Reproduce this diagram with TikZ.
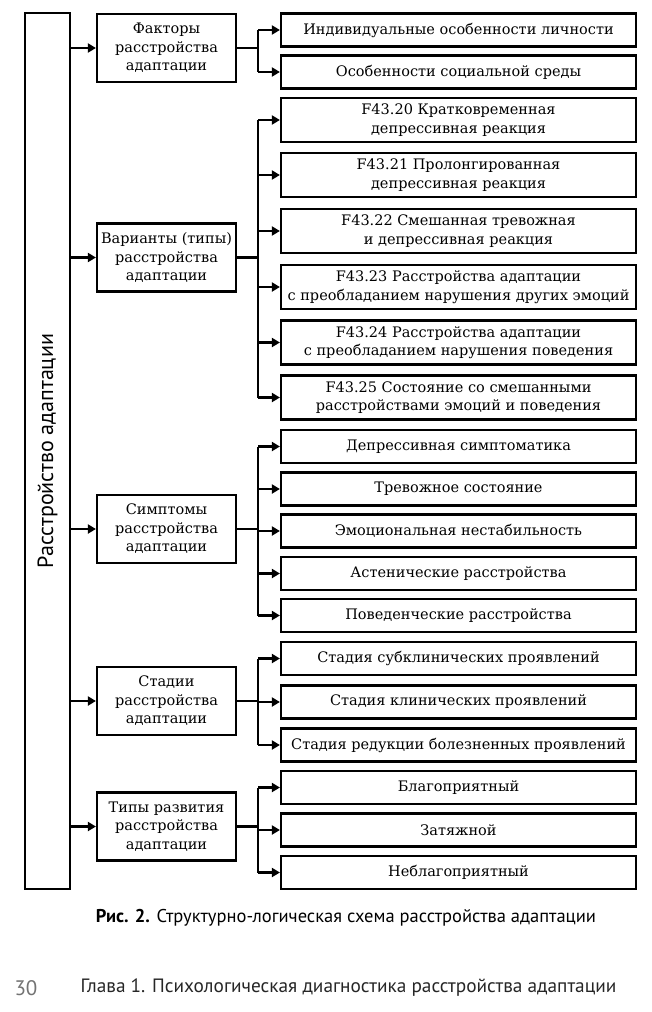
\documentclass[tikz,border=0pt]{standalone}
\usepackage{fontspec}
\setmainfont{DejaVu Serif}
\newfontfamily\capfont{PT Sans}
\usetikzlibrary{arrows.meta}
\begin{document}
\begin{tikzpicture}[x=1pt,y=-1pt,
  box/.style={draw, line width=2.2pt, inner sep=0pt, align=center,
    font=\fontsize{14.5}{18.5}\selectfont},
  lbox/.style={box, minimum width=139pt, minimum height=68pt},
  rbox/.style={box, minimum width=355pt, minimum height=33pt},
  rbox2/.style={box, minimum width=355pt, minimum height=44pt},
  ln/.style={line width=2.2pt},
  arr/.style={line width=2.2pt, -{Triangle[length=8pt,width=9pt]}}]
\fill[white] (0,0) rectangle (652,1012);
\useasboundingbox (0,0) rectangle (652,1012);
% main
\node[box, minimum width=45pt, minimum height=876pt] (main) at (47.5,451) {};
\node[rotate=90, font=\capfont\fontsize{22}{26}\selectfont] (mainlbl) at (main.center) {Расстройство адаптации};
% level 2
\node[lbox] (f) at (166.5,48) {Факторы\\расстройства\\адаптации};
\node[lbox] (v) at (166.5,257.5) {Варианты (типы)\\расстройства\\адаптации};
\node[lbox] (s) at (166.5,529) {Симптомы\\расстройства\\адаптации};
\node[lbox] (st) at (166.5,701) {Стадии\\расстройства\\адаптации};
\node[lbox] (t) at (166.5,826.5) {Типы развития\\расстройства\\адаптации};
\foreach \n in {f,v,s,st,t} \draw[arr] (main.east |- \n) -- (\n.west);
% level 3
\node[rbox] (a1) at (458.5,30) {Индивидуальные особенности личности};
\node[rbox] (a2) at (458.5,72) {Особенности социальной среды};
\node[rbox2] (b1) at (458.5,120) {F43.20 Кратковременная\\депрессивная реакция};
\node[rbox2] (b2) at (458.5,175) {F43.21 Пролонгированная\\депрессивная реакция};
\node[rbox2] (b3) at (458.5,231) {F43.22 Смешанная тревожная\\и депрессивная реакция};
\node[rbox2] (b4) at (458.5,287) {F43.23 Расстройства адаптации\\с преобладанием нарушения других эмоций};
\node[rbox2] (b5) at (458.5,342.5) {F43.24 Расстройства адаптации\\с преобладанием нарушения поведения};
\node[rbox2] (b6) at (458.5,397.5) {F43.25 Состояние со смешанными\\расстройствами эмоций и поведения};
\node[rbox] (c1) at (458.5,446.5) {Депрессивная симптоматика};
\node[rbox] (c2) at (458.5,489) {Тревожное состояние};
\node[rbox] (c3) at (458.5,531) {Эмоциональная нестабильность};
\node[rbox] (c4) at (458.5,573.5) {Астенические расстройства};
\node[rbox] (c5) at (458.5,615.5) {Поведенческие расстройства};
\node[rbox] (d1) at (458.5,658.5) {Стадия субклинических проявлений};
\node[rbox] (d2) at (458.5,702) {Стадия клинических проявлений};
\node[rbox] (d3) at (458.5,745) {Стадия редукции болезненных проявлений};
\node[rbox] (e1) at (458.5,787.5) {Благоприятный};
\node[rbox] (e2) at (458.5,830) {Затяжной};
\node[rbox] (e3) at (458.5,872.5) {Неблагоприятный};
% buses
\coordinate (fb) at (258,48);
\coordinate (vb) at (258,257.5);
\coordinate (sb) at (258,529);
\coordinate (stb) at (258,701);
\coordinate (tb) at (258,826.5);
\draw[ln] (f.east) -- (fb);
\draw[ln] (fb |- a1) -- (fb |- a2);
\foreach \n in {a1,a2} \draw[arr] (fb |- \n) -- (\n.west);
\draw[ln] (v.east) -- (vb);
\draw[ln] (vb |- b1) -- (vb |- b6);
\foreach \n in {b1,b2,b3,b4,b5,b6} \draw[arr] (vb |- \n) -- (\n.west);
\draw[ln] (s.east) -- (sb);
\draw[ln] (sb |- c1) -- (sb |- c5);
\foreach \n in {c1,c2,c3,c4,c5} \draw[arr] (sb |- \n) -- (\n.west);
\draw[ln] (st.east) -- (stb);
\draw[ln] (stb |- d1) -- (stb |- d3);
\foreach \n in {d1,d2,d3} \draw[arr] (stb |- \n) -- (\n.west);
\draw[ln] (t.east) -- (tb);
\draw[ln] (tb |- e1) -- (tb |- e3);
\foreach \n in {e1,e2,e3} \draw[arr] (tb |- \n) -- (\n.west);
% caption and footer
\node[font=\capfont\fontsize{18.5}{22}\selectfont] (cap) at (346,918) {\textbf{Рис. 2.} Структурно-логическая схема расстройства адаптации};
\node[anchor=west, text=black!55, font=\capfont\fontsize{21}{24}\selectfont] (pg) at (11,988) {30};
\node[anchor=west, text=black!85, font=\capfont\fontsize{19.3}{22}\selectfont] (ft) at (77,988) {Глава 1. Психологическая диагностика расстройства адаптации};
\end{tikzpicture}
\end{document}
